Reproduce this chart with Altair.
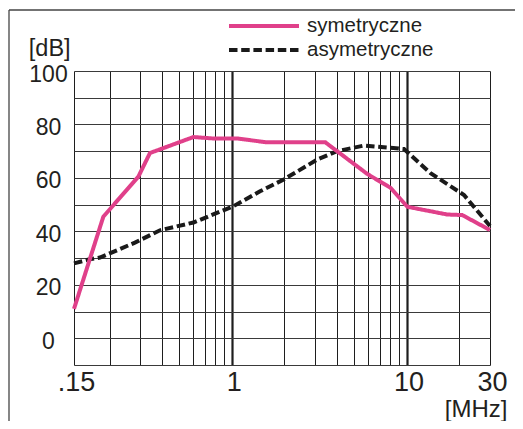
import altair as alt
import pandas as pd

SERIES = ["symetryczne", "asymetryczne"]
COLORS = ["#E0408A", "#1A1A1A"]
DASHES = [[1, 0], [8.5, 3.7]]

# symetryczne (pink, solid)
freq_sym = [0.125, 0.184, 0.292, 0.34, 0.603, 0.802, 1.09, 1.59, 2.31, 3.43, 5.95, 8.09, 10.1, 17.1, 20.8, 30]
db_sym = [11, 45.5, 60.5, 69.3, 75.3, 74.7, 74.7, 73.3, 73.3, 73.3, 61.5, 56.3, 49.2, 46.3, 46.1, 40.5]

# asymetryczne (black, dashed)
freq_asym = [0.125, 0.154, 0.176, 0.279, 0.388, 0.603, 1.02, 1.45, 1.98, 3.07, 4.0, 5.69, 9.66, 13.7, 21.3, 30]
db_asym = [28, 29.6, 30.2, 35.8, 40.4, 43.3, 49.4, 55, 59.4, 66.8, 70, 72.1, 70.8, 61.8, 53.6, 42]

X_GRID = [0.125, 0.2, 0.3, 0.4, 0.5, 0.6, 0.7, 0.8, 0.9, 1, 2, 3, 4, 5, 6, 7, 8, 9, 10, 20, 30]
X_LABEL_VALUES = [0.125, 1, 10, 30]
X_LABEL_TEXT = [".15", "1", "10", "30"]
Y_GRID = list(range(-10, 101, 10))
Y_LABEL_VALUES = [0, 20, 40, 60, 80, 100]

FONT = "Liberation Sans"
TEXT = "#231F20"

df = pd.concat([
    pd.DataFrame({"f": freq_sym, "db": db_sym, "series": SERIES[0]}),
    pd.DataFrame({"f": freq_asym, "db": db_asym, "series": SERIES[1]}),
])

x_expr = "".join(
    f"abs(datum.value - {v}) < 0.001 ? '{t}' : " for v, t in zip(X_LABEL_VALUES, X_LABEL_TEXT)
) + "''"
y_expr = " || ".join(f"datum.value == {v}" for v in Y_LABEL_VALUES)
y_expr = f"({y_expr}) ? '' + datum.value : ''"

legend = alt.Legend(
    title=None, orient="none", legendX=153, legendY=-56,
    symbolType="stroke", symbolSize=4900, symbolStrokeWidth=4,
    clipHeight=22, rowPadding=2, padding=0,
    labelFont=FONT, labelFontSize=20.5, labelColor=TEXT, labelOffset=6,
    labelBaseline="middle",
)

x_enc = alt.X(
    "f:Q",
    scale=alt.Scale(type="log", domain=[0.125, 30], nice=False),
    axis=alt.Axis(
        values=X_GRID, labelExpr=x_expr, grid=True, gridColor="#1E1E1E",
        gridWidth={"condition": {"test": "datum.value == 1 || datum.value == 10", "value": 2.2}, "value": 1},
        gridOpacity=1, ticks=False, domain=False,
        labelFont=FONT, labelFontSize=27, labelColor=TEXT, labelPadding=4,
        labelFlush=False, labelOverlap=False, labelBaseline="top", labelOffset=2,
        title="[MHz]", titleFont=FONT, titleFontSize=24, titleFontWeight="normal",
        titleColor=TEXT, titleX=433, titleY=51, titleAlign="right", titleBaseline="alphabetic",
    ),
)
y_enc = alt.Y(
    "db:Q",
    scale=alt.Scale(domain=[-10, 100], nice=False, zero=False),
    axis=alt.Axis(
        values=Y_GRID, labelExpr=y_expr, grid=True, gridColor="#3A3A3A", gridWidth=1.2,
        gridOpacity=1, ticks=False, domain=False,
        labelFont=FONT, labelFontSize=23, labelColor=TEXT, labelPadding=26,
        labelAlign="center", labelBaseline="middle", labelOffset=3,
        labelOverlap=False, labelFlush=False,
        title="[dB]", titleFont=FONT, titleFontSize=23.5, titleFontWeight="normal",
        titleColor=TEXT, titleAngle=0, titleX=-45.7, titleY=-15.5,
        titleAlign="left", titleBaseline="alphabetic",
    ),
)
color_enc = alt.Color("series:N", scale=alt.Scale(domain=SERIES, range=COLORS), legend=legend)
dash_enc = alt.StrokeDash("series:N", scale=alt.Scale(domain=SERIES, range=DASHES), legend=legend)

base = alt.Chart(df).mark_line(strokeWidth=4, strokeJoin="miter").encode(
    x=x_enc, y=y_enc, color=color_enc, strokeDash=dash_enc
)
black = base.transform_filter(alt.datum.series == SERIES[1])
pink = base.transform_filter(alt.datum.series == SERIES[0])

# outer figure frame: only the top and left edges fall inside the picture
frame_src = alt.Chart(pd.DataFrame({"k": [0]}))
frame_top = frame_src.mark_rule(stroke="#444444", strokeWidth=1.3).encode(
    x=alt.value(-65), x2=alt.value(460), y=alt.value(-61)
)
frame_left = frame_src.mark_rule(stroke="#444444", strokeWidth=1.3).encode(
    x=alt.value(-65), y=alt.value(-61), y2=alt.value(390)
)

chart = alt.layer(frame_top, frame_left, black, pink).properties(
    width=416, height=294, autosize="none",
    padding={"left": 66, "top": 63, "right": 25, "bottom": 56},
).configure_view(stroke="#111111", strokeWidth=2.8).configure(background="white")

chart.save("out.html", embed_options={"renderer": "svg", "actions": False})
